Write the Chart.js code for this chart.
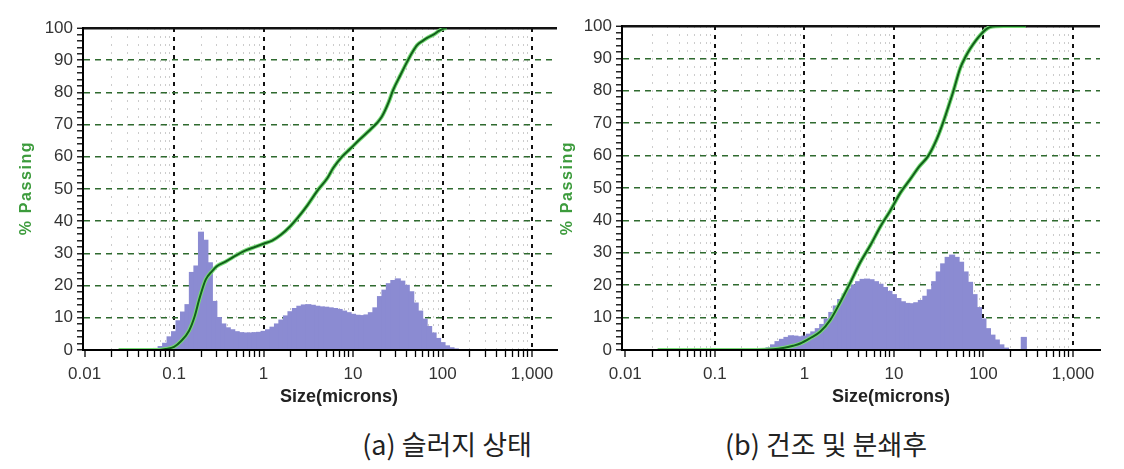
<!DOCTYPE html>
<html>
<head>
<meta charset="utf-8">
<script src="https://cdn.jsdelivr.net/npm/chart.js@4"></script>
<style>
  html, body { margin: 0; padding: 0; background: #fff; }
  body { width: 1124px; height: 469px; position: relative; overflow: hidden; }
  .wrap { position: absolute; top: 0; width: 562px; height: 420px; }
  .xt { position: absolute; top: 386px; font: bold 18px 'Liberation Sans', Arial, sans-serif; line-height: 20px; color: #222; white-space: nowrap; }
  .yt { position: absolute; width: 130px; height: 20px; line-height: 20px; text-align: center; font: bold 16px 'Liberation Sans', Arial, sans-serif; color: #3c9b3c; letter-spacing: 1.6px; transform: rotate(-90deg); white-space: nowrap; }
  .cap { position: absolute; top: 428px; width: 300px; text-align: center; font: 400 27px 'Noto Sans CJK KR', sans-serif; line-height: 32px; color: #222; white-space: nowrap; }
</style>
</head>
<body>
<div class="wrap" style="left:0"><canvas id="ca"></canvas></div>
<div class="wrap" style="left:562px"><canvas id="cb"></canvas></div>
<div class="xt" style="left:280px">Size(microns)</div>
<div class="xt" style="left:832px">Size(microns)</div>
<div class="yt" style="left:-38px; top:178px">% Passing</div>
<div class="yt" style="left:503px; top:178px">% Passing</div>
<div class="cap" style="left:297px">(a) 슬러지 상태</div>
<div class="cap" style="left:676px">(b) 건조 및 분쇄후</div>
<script>
// ---- data (sizes in microns, values in %) ----
const binSizes = [0.0631, 0.0708, 0.0794, 0.0891, 0.1, 0.112, 0.126, 0.141, 0.158, 0.178,
  0.2, 0.224, 0.251, 0.282, 0.316, 0.355, 0.398, 0.447, 0.501, 0.562,
  0.631, 0.708, 0.794, 0.891, 1, 1.12, 1.26, 1.41, 1.58, 1.78,
  2, 2.24, 2.51, 2.82, 3.16, 3.55, 3.98, 4.47, 5.01, 5.62,
  6.31, 7.08, 7.94, 8.91, 10, 11.2, 12.6, 14.1, 15.8, 17.8,
  20, 22.4, 25.1, 28.2, 31.6, 35.5, 39.8, 44.7, 50.1, 56.2,
  63.1, 70.8, 79.4, 89.1, 100, 112, 126, 141, 158, 178,
  200, 224, 251, 282];

const histA = [0.4, 1, 2, 4, 5.6, 9, 11.7, 14, 24, 26,
  36.5, 34, 27, 15, 10, 8, 6.8, 6.2, 5.6, 5.3,
  5.2, 5.2, 5.3, 5.4, 5.7, 6.2, 7, 8, 9.2, 10.5,
  11.8, 12.8, 13.5, 13.9, 14, 13.8, 13.5, 13.3, 13.2, 13,
  12.8, 12.5, 12, 11.5, 11, 10.7, 10.6, 10.8, 11.5, 13,
  16.5, 18.5, 20.5, 21.5, 22, 21.3, 20, 18, 14.5, 12,
  9.5, 7.2, 5.2, 3.5, 2.2, 1.2, 0.6, 0.2, 0, 0,
  0, 0, 0, 0];

const histB = [0, 0, 0, 0, 0, 0, 0, 0, 0, 0,
  0, 0, 0, 0, 0, 0, 0.6, 1.5, 2.5, 3.2,
  3.8, 4.3, 4.2, 4, 4.2, 4.8, 5.5, 6.5, 7.8, 9.5,
  11.5, 13.5, 15.5, 17.2, 18.8, 20, 21, 21.7, 21.8, 21.6,
  21, 20.2, 19.2, 18, 17, 15.8, 14.8, 14.3, 14.2, 14.5,
  15.2, 16.5, 18.5, 21, 24, 26.5, 28.5, 29.2, 28.5, 27,
  24, 20.8, 17, 13, 9.5, 6.5, 4.5, 3, 1.5, 0.5,
  0, 0, 0, 3.8];

const cumSizesA = [0.024, 0.05, 0.068, 0.08, 0.1, 0.12, 0.147, 0.17, 0.19, 0.21,
  0.227, 0.266, 0.3, 0.38, 0.5, 0.64, 0.8, 1.0, 1.25, 1.55,
  2.0, 2.4, 3.1, 4.0, 5.2, 6.0, 7.5, 9.3, 12, 15,
  18.5, 21, 25, 28, 34, 40, 46, 52, 60, 68,
  80, 90, 100, 110];
const cumA = [0, 0, 0, 0.3, 1, 2.8, 6, 10.5, 15.5, 19.5,
  22, 24.5, 26, 27.5, 29.5, 31, 32, 33, 34, 35.7,
  38.5, 41, 45, 49.5, 53.5, 56.5, 60, 62.5, 65.5, 68,
  70.5, 72.5, 77, 80.7, 85.5, 89.4, 92.5, 94.7, 96, 97,
  98, 99, 99.7, 100];

const cumSizesB = [0.023, 0.1, 0.3, 0.45, 0.6, 0.75, 0.9, 1.17, 1.5, 1.95,
  2.5, 3.26, 4.2, 5.5, 7.1, 9.1, 11.8, 15.3, 19, 24.3,
  30, 35.7, 41, 46, 55, 63, 71, 82, 92, 105,
  119, 167, 295];
const cumB = [0, 0, 0, 0.2, 0.7, 1.3, 2, 3.7, 5.6, 9.3,
  14.6, 20.8, 27, 32.5, 38.2, 43, 48.5, 52.8, 56.5, 60,
  65, 70.5, 75.5, 79.8, 87, 90.5, 93, 95.5, 97.2, 98.8,
  99.7, 100, 100];

const xDecades = [0.01, 0.1, 1, 10, 100, 1000];
const xTickLabels = ['0.01', '0.1', '1', '10', '100', '1,000'];
const yTickValues = [0, 2, 4, 6, 8, 10, 12, 14, 16, 18, 20, 22, 24, 26, 28, 30, 32, 34, 36, 38, 40,
  42, 44, 46, 48, 50, 52, 54, 56, 58, 60, 62, 64, 66, 68, 70, 72, 74, 76, 78, 80,
  82, 84, 86, 88, 90, 92, 94, 96, 98, 100];

// minor + major x tick positions (1..9 x each decade)
const xTickValues = [];
for (let d = 0; d < xDecades.length - 1; d++) {
  for (let m = 1; m <= 9; m++) xTickValues.push(m === 1 ? xDecades[d] : m * xDecades[d]);
}
xTickValues.push(xDecades[xDecades.length - 1]);

const isDecade = v => xDecades.some(d => Math.abs(v / d - 1) < 1e-9);

function makeChart(id, hist, cx, cy, cfg) {
  const font = { family: "'Liberation Sans', Arial, sans-serif", size: 17 };
  return new Chart(document.getElementById(id), {
    type: 'line',
    data: {
      datasets: [
        {
          type: 'bar',
          data: binSizes.map((s, i) => ({ x: s, y: hist[i] })),
          backgroundColor: 'rgb(139,139,210)',
          borderWidth: 0,
          barThickness: 'flex',
          barPercentage: 1,
          categoryPercentage: 1,
          inflateAmount: 0.8,
          order: 3
        },
        {
          data: cx.map((x, i) => ({ x: x, y: cy[i] })),
          borderColor: '#78dc78',
          borderWidth: 4,
          pointRadius: 0,
          cubicInterpolationMode: 'monotone',
          fill: false,
          order: 2
        },
        {
          data: cx.map((x, i) => ({ x: x, y: cy[i] })),
          borderColor: '#12601a',
          borderWidth: 2,
          pointRadius: 0,
          cubicInterpolationMode: 'monotone',
          fill: false,
          order: 1
        }
      ]
    },
    options: {
      responsive: true,
      maintainAspectRatio: false,
      animation: false,
      devicePixelRatio: 1,
      layout: { padding: { left: 0, right: cfg.padRight, top: cfg.padTop, bottom: 0 } },
      plugins: { legend: { display: false }, tooltip: { enabled: false } },
      scales: {
        x: {
          type: 'logarithmic',
          min: cfg.xmin,
          max: cfg.xmax,
          offset: false,
          afterBuildTicks: s => { s.ticks = xTickValues.map(v => ({ value: v, major: isDecade(v) })); },
          afterFit: s => { s.height = 70; },
          ticks: {
            autoSkip: false,
            maxRotation: 0,
            minRotation: 0,
            padding: 7,
            color: '#333',
            font: font,
            callback: v => {
              const i = xDecades.findIndex(d => Math.abs(v / d - 1) < 1e-9);
              return i >= 0 ? xTickLabels[i] : '';
            }
          },
          grid: {
            offset: false,
            color: c => {
              if (!c.tick) return '#000';
              const v = c.tick.value;
              if (isDecade(v)) return v === xDecades[0] ? 'rgba(0,0,0,0)' : '#111';
              return '#cccccc';
            },
            lineWidth: c => (c.tick && isDecade(c.tick.value)) ? 2 : 1,
            tickColor: '#000',
            tickWidth: 1.3,
            tickLength: 7
          },
          border: {
            color: '#000',
            width: 2,
            z: 1,
            dash: c => {
              if (!c.tick) return [];
              return isDecade(c.tick.value) ? [4, 5] : [2, 6];
            }
          }
        },
        y: {
          type: 'linear',
          min: 0,
          max: 100,
          afterBuildTicks: s => { s.ticks = yTickValues.map(v => ({ value: v })); },
          afterFit: s => { s.width = cfg.yWidth; },
          ticks: {
            autoSkip: false,
            padding: 4,
            color: '#333',
            font: font,
            callback: v => (v % 10 === 0 ? String(v) : '')
          },
          grid: {
            color: c => {
              if (!c.tick) return '#000';
              const v = c.tick.value;
              if (v === 100) return '#111';
              if (v > 0 && v % 10 === 0) return '#2f6a2f';
              return 'rgba(0,0,0,0)';
            },
            lineWidth: c => (c.tick && c.tick.value === 100) ? 2.5 : 1.6,
            tickColor: '#000',
            tickWidth: 1.3,
            tickLength: 6
          },
          border: {
            color: '#000',
            width: 2,
            z: 1,
            dash: c => {
              if (!c.tick) return [];
              return c.tick.value === 100 ? [] : [6, 5];
            }
          }
        }
      }
    }
  });
}

makeChart('ca', histA, cumSizesA, cumA, { xmin: 0.0096, xmax: 1900, yWidth: 83, padRight: 5, padTop: 28 });
makeChart('cb', histB, cumSizesB, cumB, { xmin: 0.0092, xmax: 2000, yWidth: 60, padRight: 24, padTop: 26 });
</script>
</body>
</html>
